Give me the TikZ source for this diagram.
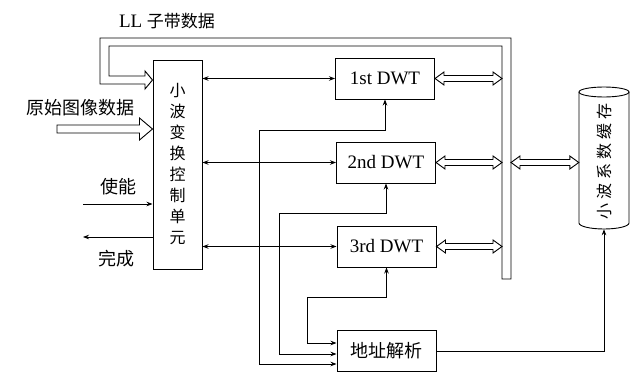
\documentclass[tikz,border=0pt]{standalone}
\usepackage{fontspec}
\setmainfont{Liberation Serif}
\newfontfamily\cjk{Noto Sans CJK SC}
\usetikzlibrary{arrows.meta,calc}
\begin{document}
\begin{tikzpicture}[x=1pt,y=-1pt,
  box/.style={draw, line width=1pt, inner sep=0pt, minimum width=99pt, minimum height=41pt, font=\fontsize{19}{20}\selectfont},
  conn/.style={line width=0.8pt, -{Stealth[length=6pt,width=4.5pt]}},
  dconn/.style={line width=0.8pt, {Stealth[length=6pt,width=4.5pt]}-{Stealth[length=6pt,width=4.5pt]}},
  hollowdbl/.style={line width=0.9pt, line join=miter, to path={
      -- ++(9,-6.5) -- ++(0,3.5) -- ($(\tikztotarget)+(-9,-3)$) -- ++(0,-3.5) -- (\tikztotarget)
      -- ++(-9,6.5) -- ++(0,-3.5) -- ($(\tikztostart)+(9,3)$) -- ++(0,3.5) -- cycle}},
  hollowsgl/.style={line width=0.9pt, line join=miter, to path={
      ++(0,-4) -- ($(\tikztotarget)+(-13,-4)$) -- ++(0,-7) -- (\tikztotarget)
      -- ++(-13,11) -- ++(0,-7) -- ($(\tikztostart)+(0,4)$) -- cycle}},
  lbl/.style={font=\cjk\fontsize{18}{20}\selectfont, inner sep=0pt}
]
\useasboundingbox (0,0) rectangle (633,372);

% control unit
\node[draw, line width=1pt, minimum width=49pt, minimum height=209pt, inner sep=0pt, align=center,
      font=\cjk\fontsize{16}{21}\selectfont] (ctrl) at (177.5,164.5) {小\\波\\变\\换\\控\\制\\单\\元};

% DWT boxes
\node[box] (dwt1) at (385,78.5) {1st DWT};
\node[box] (dwt2) at (386,162.5) {2nd DWT};
\node[box] (dwt3) at (386.5,246.5) {3rd DWT};
\node[box, font=\cjk\fontsize{18}{20}\selectfont] (addr) at (386.5,351) {地址解析};

% cylinder (storage)
\node[minimum width=50pt, minimum height=142pt, inner sep=0pt] (cyl) at (604,158) {};
\draw[line width=0.9pt] (604,92) ellipse [x radius=25, y radius=5];
\draw[line width=0.9pt] (579,92) -- (579,223) arc [start angle=180, end angle=0, x radius=25, y radius=6] -- (629,92);
\node[rotate=90, inner sep=0pt, font=\cjk\fontsize{16}{20}\selectfont] (cyltext) at (604,161)
  {小\hspace{4pt}波\hspace{4pt}系\hspace{4pt}数\hspace{4pt}缓\hspace{4pt}存};

% bus with LL feedback arrow
\coordinate (busL) at (502,46);
\coordinate (busR) at (511,46);
\draw[line width=0.9pt] (ctrl.west |- 0,80) -- (145,89) -- (145,84) -- (100,84) -- (100,38) -- (511,38)
  -- (511,279) -- (502,279) -- (502,46) -- (109,46) -- (109,76) -- (145,76) -- (145,71) -- cycle;

% hollow double arrows to bus and storage
\draw[hollowdbl] (dwt1.east) to (dwt1.east -| busL);
\draw[hollowdbl] (dwt2.east) to (dwt2.east -| busL);
\draw[hollowdbl] (dwt3.east) to (dwt3.east -| busL);
\draw[hollowdbl] (dwt2.east -| busR) to (dwt2.east -| cyl.west);

% control <-> DWT
\draw[dconn] (ctrl.east |- dwt1.west) -- (dwt1.west);
\draw[dconn] (ctrl.east |- dwt2.west) -- (dwt2.west);
\draw[dconn] (ctrl.east |- dwt3.west) -- (dwt3.west);

% address lines
\draw[dconn] (dwt1.south) -- (dwt1.south |- 0,130) -- (259,130) -- (259,364) -- (addr.west |- 0,364);
\draw[dconn] (dwt2.south) -- (dwt2.south |- 0,213) -- (279,213) -- (279,354) -- (addr.west |- 0,354);
\draw[dconn] (dwt3.south) -- (dwt3.south |- 0,297) -- (307,297) -- (307,343) -- (addr.west |- 0,343);
\draw[conn] (addr.east) -| (cyl.south);

% inputs / outputs
\coordinate (rawin) at (57,129);
\draw[hollowsgl] (rawin) to (ctrl.west |- rawin);
\coordinate (enin) at (83,204);
\draw[conn] (enin) -- (ctrl.west |- enin);
\coordinate (doneout) at (83,237);
\draw[conn] (ctrl.west |- doneout) -- (doneout);

% labels
\node[lbl] (lblraw) at (81,108) {原始图像数据};
\node[lbl] (lblen) at (118,187) {使能};
\node[lbl] (lbldone) at (116,259) {完成};
\node[inner sep=0pt] (lblll) at (167,21) {\fontsize{19}{20}\selectfont LL {\cjk\fontsize{17}{20}\selectfont 子带数据}};
\end{tikzpicture}
\end{document}
